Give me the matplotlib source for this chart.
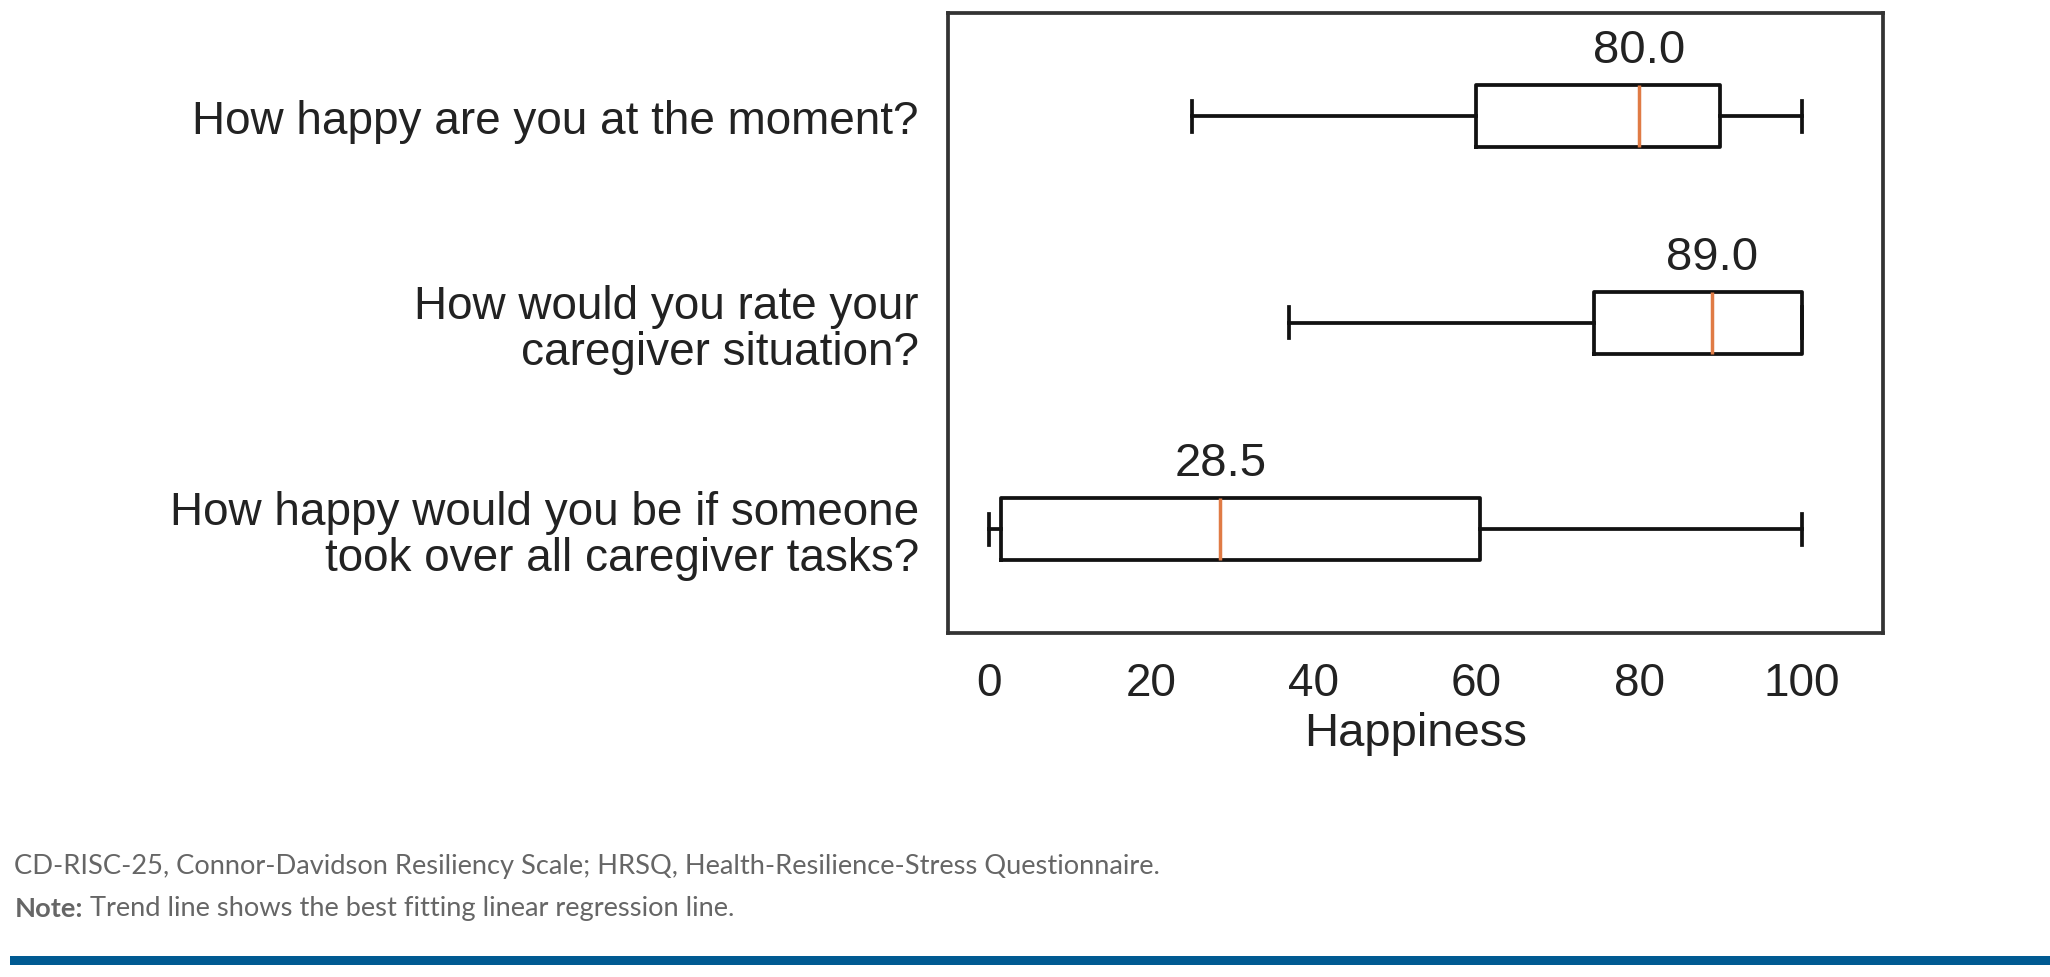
import matplotlib
matplotlib.use('Agg')
import matplotlib.pyplot as plt

# Data (bottom to top)
questions = ['How happy would you be if someone\ntook over all caregiver tasks?',
             'How would you rate your\ncaregiver situation?',
             'How happy are you at the moment?']
whislo = [0, 37, 25]
q1 = [1.5, 74.5, 60]
med = [28.5, 89, 80]
q3 = [60.5, 100, 90]
whishi = [100, 100, 100]
xticks = [0, 20, 40, 60, 80, 100]

stats = []
for i in range(len(questions)):
    stats.append({'whislo': whislo[i], 'q1': q1[i], 'med': med[i],
                  'q3': q3[i], 'whishi': whishi[i], 'fliers': []})

plt.rcParams['font.family'] = ['Liberation Sans', 'DejaVu Sans']

fig = plt.figure(figsize=(20.5, 9.78), dpi=100)
ax = fig.add_axes([0.4624, 0.352, 0.4561, 0.6337])

positions = list(range(1, len(questions) + 1))
ax.bxp(stats, positions=positions, vert=False, widths=0.3,
       boxprops=dict(color='#111111', linewidth=2.7),
       whiskerprops=dict(color='#111111', linewidth=2.7),
       capprops=dict(color='#111111', linewidth=2.7),
       medianprops=dict(color='#e07b45', linewidth=2.5))

for p, m in zip(positions, med):
    ax.text(m, p + 0.32, f'{m:.1f}', ha='center', va='center',
            fontsize=34, color='#222222')

ax.set_xlim(-5, 110)
ax.set_ylim(0.5, 3.5)
ax.set_xticks(xticks)
ax.set_xticklabels([str(t) for t in xticks])
ax.set_yticks(positions)
ax.set_yticklabels(questions, ha='right', linespacing=1.05)
ax.tick_params(axis='both', length=0, labelsize=33, colors='#222222')
ax.tick_params(axis='x', pad=20)
ax.tick_params(axis='y', pad=21)
ax.set_xlabel('Happiness', fontsize=34, color='#222222', labelpad=5)
for s in ax.spines.values():
    s.set_linewidth(2.7)
    s.set_color('#333333')

# Footer notes
foot_font = ['Lato', 'DejaVu Sans']
fig.text(0.007, 0.1145, 'CD-RISC-25, Connor-Davidson Resiliency Scale; HRSQ, Health-Resilience-Stress Questionnaire.',
         fontsize=19.6, color='#666666', va='center', family=foot_font)
note = fig.text(0.007, 0.0706, 'Note:', fontsize=19.6, color='#666666', va='center',
                fontweight='bold', family=foot_font)
ax.annotate(' Trend line shows the best fitting linear regression line.',
            xy=(1, 0.5), xycoords=note, va='center', ha='left',
            fontsize=19.6, color='#666666', family=foot_font, annotation_clip=False)
fig.add_artist(plt.Rectangle((0.005, 0.012), 0.995, 0.009, transform=fig.transFigure,
                             color='#005a92', linewidth=0))

fig.savefig('out.png', dpi=100, facecolor='white')
